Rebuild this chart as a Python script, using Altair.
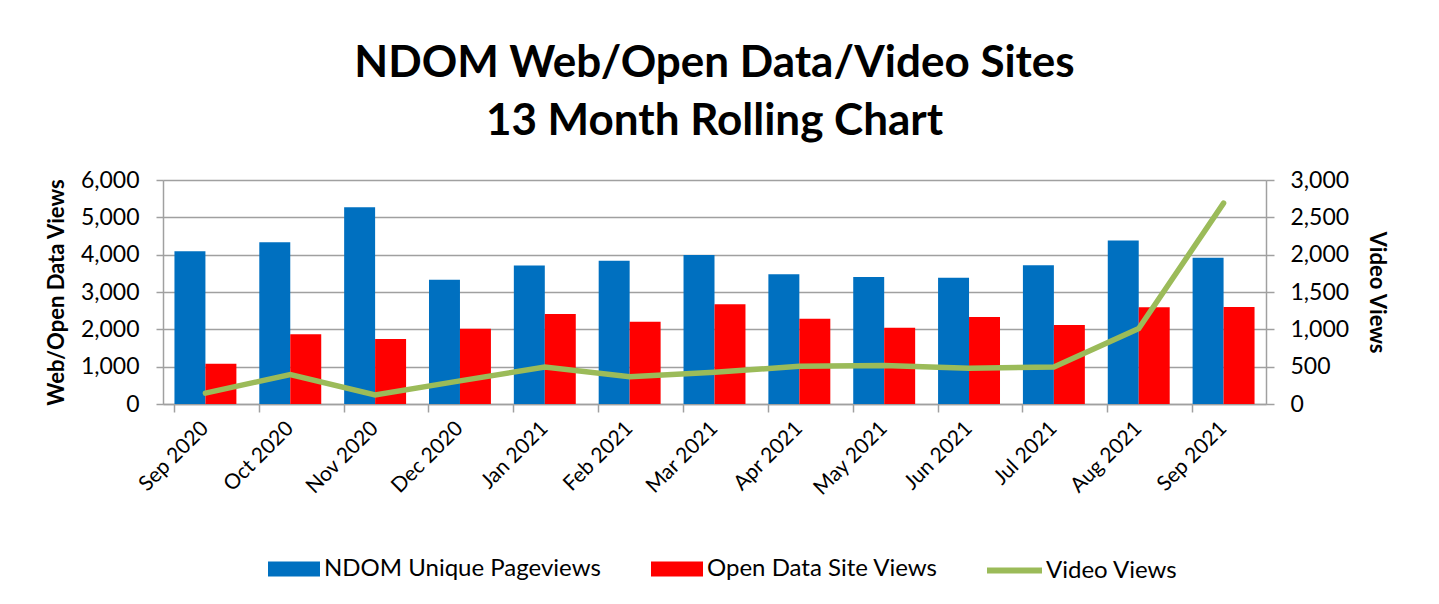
import altair as alt
import pandas as pd

months = ["Sep 2020", "Oct 2020", "Nov 2020", "Dec 2020", "Jan 2021", "Feb 2021",
          "Mar 2021", "Apr 2021", "May 2021", "Jun 2021", "Jul 2021", "Aug 2021", "Sep 2021"]
ndom_pageviews = [4090, 4330, 5270, 3330, 3710, 3840, 3990, 3475, 3405, 3385, 3715, 4380, 3915]
open_data_views = [1075, 1865, 1740, 2015, 2410, 2205, 2670, 2285, 2040, 2330, 2115, 2590, 2600]
video_views = [145, 395, 120, 310, 495, 365, 425, 505, 515, 480, 495, 1010, 2690]

bar_series = ["NDOM Unique Pageviews", "Open Data Site Views"]
line_series = ["Video Views"]
left_ticks = [0, 1000, 2000, 3000, 4000, 5000, 6000]
right_ticks = [0, 500, 1000, 1500, 2000, 2500, 3000]

bars_df = pd.DataFrame({
    "month": months * 2,
    "series": [bar_series[0]] * len(months) + [bar_series[1]] * len(months),
    "value": ndom_pageviews + open_data_views,
})
line_df = pd.DataFrame({
    "month": months,
    "series": line_series * len(months),
    "value": video_views,
})

FONT = "Lato"
GRID = "#A0A0A0"


def x_axis():
    return alt.Axis(title=None, labelAngle=-45, labelAlign="right", labelBaseline="middle",
                    bandPosition=0, tickSize=8, tickColor=GRID, tickWidth=1.5,
                    domainColor=GRID, domainWidth=1.5, labelPadding=13,
                    labelFont=FONT, labelFontSize=21, labelColor="black", grid=False)


x_scale = alt.Scale(paddingInner=0.27, paddingOuter=0.135)

bars = alt.Chart(bars_df).mark_bar().encode(
    x=alt.X("month:N", sort=months, scale=x_scale, axis=x_axis()),
    xOffset=alt.XOffset("series:N", sort=bar_series),
    y=alt.Y("value:Q", scale=alt.Scale(domain=[0, 6000], nice=False),
            axis=alt.Axis(title="Web/Open Data Views", values=left_ticks, format=",.0f",
                          grid=True, gridColor=GRID, gridWidth=1.5,
                          domainColor=GRID, domainWidth=1.5, tickColor=GRID, tickWidth=1.5,
                          tickSize=7, labelPadding=17, labelFont=FONT, labelFontSize=23,
                          labelColor="black", titleFont=FONT, titleFontSize=22,
                          titleFontWeight="bold", titleColor="black", titlePadding=12)),
    fill=alt.Fill("series:N", sort=bar_series,
                  scale=alt.Scale(domain=bar_series, range=["#0070C0", "#FF0000"]),
                  legend=alt.Legend(orient="none", legendX=105, legendY=363, direction="horizontal",
                                    title=None, symbolType="M-1,-0.29H1V0.29H-1Z", symbolSize=2704,
                                    symbolStrokeWidth=0, columnPadding=50, labelOffset=4,
                                    labelFont=FONT, labelFontSize=24, labelColor="black",
                                    labelLimit=400)),
)

line = alt.Chart(line_df).mark_line(strokeWidth=5.5, strokeCap="round").encode(
    x=alt.X("month:N", sort=months, bandPosition=0.5, scale=x_scale, axis=x_axis()),
    y=alt.Y("value:Q", scale=alt.Scale(domain=[0, 3000], nice=False),
            axis=alt.Axis(orient="right", title="Video Views", values=right_ticks, format=",.0f",
                          grid=False, domainColor=GRID, domainWidth=1.5, tickColor=GRID,
                          tickWidth=1.5, tickSize=8, labelPadding=16, labelFont=FONT,
                          labelFontSize=23, labelColor="black", titleFont=FONT,
                          titleFontSize=22, titleFontWeight="bold", titleColor="black",
                          titlePadding=16)),
    stroke=alt.Stroke("series:N", scale=alt.Scale(domain=line_series, range=["#9BBB59"]),
                      legend=alt.Legend(orient="none", legendX=821, legendY=360, title=None,
                                        symbolType="stroke", symbolSize=3025,
                                        symbolStrokeWidth=6, labelOffset=1,
                                        labelFont=FONT, labelFontSize=24, labelColor="black")),
)

chart = alt.layer(bars, line).resolve_scale(y="independent", fill="independent", stroke="independent").properties(
    width=1103,
    height=224,
    title=alt.TitleParams(
        text=["NDOM Web/Open Data/Video Sites", "13 Month Rolling Chart"],
        font=FONT, fontSize=44, fontWeight="bold", color="black",
        anchor="middle", lineHeight=58, offset=25,
    ),
    autosize=alt.AutoSizeParams(type="none"),
    padding={"left": 155, "top": 172, "right": 160, "bottom": 190},
).configure_view(stroke=None).configure(background="white")

chart.save("out.html", embed_options={"renderer": "svg", "actions": False})
